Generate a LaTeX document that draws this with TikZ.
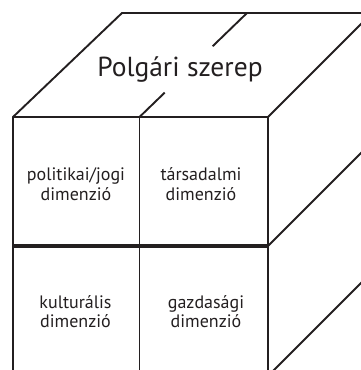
\documentclass[tikz,border=0pt]{standalone}
\usepackage{fontspec}
\setmainfont{PT Sans}
\usetikzlibrary{calc}
\definecolor{ink}{HTML}{231F20}
\begin{document}
\begin{tikzpicture}[x=1pt,y=-1pt,
  edge/.style={draw=ink,line width=1.9pt,line join=miter},
  heavyedge/.style={draw=ink,line width=4.5pt},
  lbl/.style={text=ink,font=\fontsize{18}{19.5}\selectfont,align=center,inner sep=0pt},
  titlelbl/.style={text=ink,font=\fontsize{27.5}{30}\selectfont,inner sep=0pt,anchor=base}]
\useasboundingbox (0,0) rectangle (361,370);
\clip (0,0) rectangle (361,370);
% front face corners
\coordinate (F1) at (13,117);
\coordinate (F2) at (139.5,117);
\coordinate (F3) at (268,117);
\coordinate (M1) at (13,246);
\coordinate (M3) at (268,246);
\coordinate (L1) at (13,376);
\coordinate (L2) at (139.5,376);
\coordinate (L3) at (268,376);
% back corners
\coordinate (B1) at (122,13);
\coordinate (B2) at (247,13);
\coordinate (B3) at (372,13);
\coordinate (RM) at (372,142);
\coordinate (RL) at (372,272);
% top face
\draw[edge] (L1) -- (F1) -- (B1) -- (B3) -- (F3) -- (L3);
\draw[edge] (F1) -- (F3);
\draw[edge] (F2) -- (L2);
\draw[edge] (F2) -- ($(F2)!0.235!(B2)$);
\draw[edge] ($(F2)!0.68!(B2)$) -- (B2);
% right face
\draw[edge] (M3) -- (RM);
\draw[edge] (L3) -- (RL);
% middle heavy line
\draw[heavyedge] (M1) -- (M3);
% labels
\node[titlelbl] (title) at (180,76) {Polgári szerep};
\node[lbl] (pol) at (76,184) {politikai/jogi\\dimenzió};
\node[lbl] (tar) at (201,184) {társadalmi\\dimenzió};
\node[lbl] (kul) at (75.5,311.5) {kulturális\\dimenzió};
\node[lbl] (gaz) at (206,311.5) {gazdasági\\dimenzió};
\end{tikzpicture}
\end{document}
